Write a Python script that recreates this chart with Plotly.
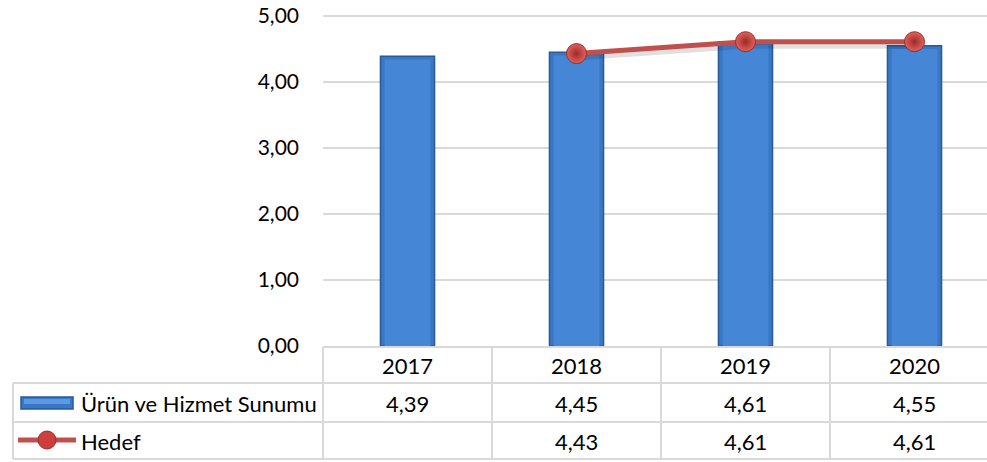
import plotly.graph_objects as go

years = ["2017", "2018", "2019", "2020"]
urun = [4.39, 4.45, 4.61, 4.55]
hedef = [None, 4.43, 4.61, 4.61]
series_names = ["Ürün ve Hizmet Sunumu", "Hedef"]
y_ticks = [0, 1, 2, 3, 4, 5]
y_tick_text = ["0,00", "1,00", "2,00", "3,00", "4,00", "5,00"]

def fmt(v):
    return "" if v is None else f"{v:.2f}".replace(".", ",")

W, H = 987, 462
YMAX = 5.06
# plot-area bounds in pixels (y=0 at 346, y=5 at 16)
PPU = 66.0
PL, PR, PB = 323, 987, 346
PT = round(PB - YMAX * PPU)
COLW = 169.0

def py(p):  # pixel y -> paper y
    return (PB - p) / (PB - PT)

def px(p):  # pixel x -> paper x
    return (p - PL) / (PR - PL)

FONT = "Lato"
GRID = "#D9D9D9"

fig = go.Figure()
fig.add_trace(go.Bar(
    x=list(range(len(years))), y=urun, name=series_names[0],
    width=0.32,
    marker=dict(color="#3A78C6", line=dict(color="#2A5A96", width=1.5)),
    showlegend=False, hoverinfo="skip",
))
# bevel highlight
fig.add_trace(go.Bar(
    x=list(range(len(years))), y=[v - 0.05 for v in urun],
    width=0.27,
    marker=dict(color="#4587D6", line=dict(width=0)),
    showlegend=False, hoverinfo="skip",
))
# line shadow
fig.add_trace(go.Scatter(
    x=[1, 2, 3], y=[v - 0.06 for v in hedef[1:]], mode="lines",
    line=dict(color="rgba(0,0,0,0.12)", width=6),
    showlegend=False, hoverinfo="skip",
))
fig.add_trace(go.Scatter(
    x=list(range(len(years))), y=hedef, name=series_names[1],
    mode="lines+markers",
    line=dict(color="#C0504D", width=5),
    marker=dict(size=20, color="#E0625E",
                gradient=dict(type="radial", color="#9E2A27"),
                line=dict(color="#9E2A27", width=1)),
    showlegend=False, hoverinfo="skip",
))

fig.update_layout(
    barmode="overlay",
    width=W, height=H,
    margin=dict(l=PL, r=W - PR, t=PT, b=H - PB, autoexpand=False),
    paper_bgcolor="white", plot_bgcolor="white",
    font=dict(family=FONT, size=22, color="#000000"),
    xaxis=dict(range=[-0.5, -0.5 + (PR - PL) / COLW], showticklabels=False, automargin=False,
               showgrid=False, zeroline=False, showline=False, fixedrange=True),
    yaxis=dict(range=[0, YMAX], tickvals=y_ticks, ticktext=y_tick_text, automargin=False,
               showgrid=True, gridcolor=GRID, gridwidth=1.5, zeroline=False,
               ticks="", ticklabelstandoff=23, tickfont=dict(size=21),
               ticklabeloverflow="allow"),
)

shapes = []
line = dict(color=GRID, width=2)
shapes.append(dict(type="line", xref="paper", yref="paper", x0=0, x1=1, y0=py(347), y1=py(347), line=line))
for yy in (383, 422, 459):
    shapes.append(dict(type="line", xref="paper", yref="paper", x0=px(13), x1=1, y0=py(yy), y1=py(yy), line=line))
shapes.append(dict(type="line", xref="paper", yref="paper", x0=0, x1=0, y0=py(347), y1=py(459), line=line))
shapes.append(dict(type="line", xref="paper", yref="paper", x0=px(13), x1=px(13), y0=py(383), y1=py(459), line=line))
for i in range(len(years) - 1):
    shapes.append(dict(type="line", xref="x", yref="paper", x0=i + 0.5, x1=i + 0.5, y0=py(347), y1=py(459), line=line))

# legend keys in table
shapes.append(dict(type="rect", xref="paper", yref="paper", x0=px(21), x1=px(73), y0=py(397), y1=py(409),
                   fillcolor="#3A78C6", line=dict(color="#2A5A96", width=1.5)))
shapes.append(dict(type="rect", xref="paper", yref="paper", x0=px(24), x1=px(70), y0=py(399), y1=py(404),
                   fillcolor="#5A9AE6", line=dict(width=0)))
shapes.append(dict(type="line", xref="paper", yref="paper", x0=px(18), x1=px(76), y0=py(440), y1=py(440),
                   line=dict(color="#C0504D", width=5)))
shapes.append(dict(type="circle", xref="paper", yref="paper", x0=px(38), x1=px(56), y0=py(431), y1=py(449),
                   fillcolor="#CC3F3B", line=dict(color="#9E2A27", width=1)))
fig.update_layout(shapes=shapes)

ann = []
for i, yr in enumerate(years):
    for yy, txt in ((365, yr), (403, fmt(urun[i])), (441, fmt(hedef[i]))):
        ann.append(dict(x=i, y=py(yy), xref="x", yref="paper", text=txt, showarrow=False,
                        xanchor="center", yanchor="middle"))
ann.append(dict(x=px(79), y=py(403), xref="paper", yref="paper", text=series_names[0],
                showarrow=False, xanchor="left", yanchor="middle"))
ann.append(dict(x=px(79), y=py(441), xref="paper", yref="paper", text=series_names[1],
                showarrow=False, xanchor="left", yanchor="middle"))
fig.update_layout(annotations=ann)

fig.write_html("out.html", config={"displayModeBar": False},
               post_script="document.body.style.margin='0';document.body.style.overflow='hidden';")
